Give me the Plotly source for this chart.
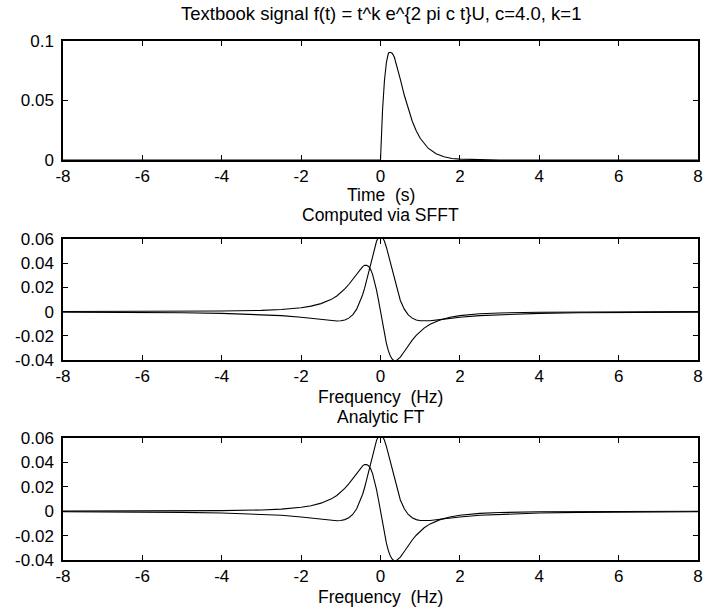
import plotly.graph_objects as go

# ---- data ----
time_s = [-8, -2, 0, 0.05, 0.1, 0.15, 0.2, 0.25, 0.3, 0.35, 0.4, 0.5, 0.6, 0.7, 0.8, 0.9,
          1.0, 1.2, 1.4, 1.6, 1.8, 2.0, 2.5, 3, 4, 6, 8]
signal = [0, 0, 0, 0.0409, 0.0670, 0.0823, 0.0899, 0.0905, 0.0895, 0.0863, 0.0806, 0.0677,
          0.0544, 0.0426, 0.0326, 0.0246, 0.0183, 0.0099, 0.0052, 0.0027, 0.0013, 0.0007,
          0.0001, 0.00002, 0, 0, 0]

freq_hz = [-8, -7, -6, -5, -4, -3, -2.5, -2, -1.75, -1.5, -1.25, -1.1, -1.0, -0.9, -0.8,
           -0.7, -0.6, -0.5, -0.45, -0.4, -0.35, -0.3, -0.25, -0.2, -0.15, -0.1, -0.05,
           0, 0.05, 0.1, 0.15, 0.2, 0.25, 0.3, 0.35, 0.4, 0.45, 0.5, 0.6, 0.7, 0.8, 0.9,
           1.0, 1.1, 1.25, 1.5, 1.75, 2, 2.5, 3, 4, 5, 6, 7, 8]

real_part = [-0.0004, -0.0005, -0.0007, -0.0010, -0.0015, -0.0025, -0.0033, -0.0047, -0.0056,
             -0.0066, -0.0076, -0.0078, -0.0076, -0.0069, -0.0054, -0.0027, 0.0020, 0.0092,
             0.0139, 0.0194, 0.0257, 0.0326, 0.0397, 0.0467, 0.0530, 0.0581, 0.0614,
             0.0625, 0.0614, 0.0581, 0.0530, 0.0467, 0.0397, 0.0326, 0.0257, 0.0194, 0.0139,
             0.0092, 0.0020, -0.0027, -0.0054, -0.0069, -0.0076, -0.0078, -0.0076, -0.0066,
             -0.0056, -0.0047, -0.0033, -0.0025, -0.0015, -0.0010, -0.0007, -0.0005, -0.0004]

imag_part = [0.00006, 0.00009, 0.00014, 0.00024, 0.0005, 0.0010, 0.0017, 0.0032, 0.0045,
             0.0066, 0.0099, 0.0129, 0.0155, 0.0187, 0.0224, 0.0267, 0.0313, 0.0356,
             0.0372, 0.0382, 0.0382, 0.0373, 0.0350, 0.0308, 0.0250, 0.0177, 0.0092,
             0, -0.0097, -0.0187, -0.0264, -0.0325, -0.0369, -0.0395, -0.0405, -0.0404,
             -0.0393, -0.0376, -0.0330, -0.0282, -0.0236, -0.0197, -0.0163, -0.0136,
             -0.0104, -0.0069, -0.0047, -0.0033, -0.0018, -0.0011, -0.0005, -0.00025,
             -0.00015, -0.00009, -0.00006]

x_ticks = [-8, -6, -4, -2, 0, 2, 4, 6, 8]
top_y_ticks = [0, 0.05, 0.1]
top_y_labels = ["0", "0.05", "0.1"]
ft_y_ticks = [-0.04, -0.02, 0, 0.02, 0.04, 0.06]
ft_y_labels = ["-0.04", "-0.02", "0", "0.02", "0.04", "0.06"]

title_text = "Textbook signal f(t) = t^k e^{2 pi c t}U, c=4.0, k=1"

FONT = "Liberation Sans, Arial, Helvetica, sans-serif"
TICK_SIZE = 17
LABEL_SIZE = 17.5

fig = go.Figure()
line = dict(color="black", width=1.1)
fig.add_trace(go.Scatter(x=time_s, y=signal, mode="lines", line=line, xaxis="x", yaxis="y"))
fig.add_trace(go.Scatter(x=freq_hz, y=real_part, mode="lines", line=line, xaxis="x2", yaxis="y2"))
fig.add_trace(go.Scatter(x=freq_hz, y=imag_part, mode="lines", line=line, xaxis="x2", yaxis="y2"))
fig.add_trace(go.Scatter(x=freq_hz, y=real_part, mode="lines", line=line, xaxis="x3", yaxis="y3"))
fig.add_trace(go.Scatter(x=freq_hz, y=imag_part, mode="lines", line=line, xaxis="x3", yaxis="y3"))

def xax(anchor):
    return dict(anchor=anchor, domain=[0, 1], range=[-8, 8], tickvals=x_ticks,
                ticktext=[str(v) for v in x_ticks], ticks="inside", ticklen=5,
                tickcolor="black", tickwidth=1, showline=True, linecolor="black",
                linewidth=1.5, mirror="ticks", showgrid=False, zeroline=False,
                tickfont=dict(family=FONT, size=TICK_SIZE, color="black"))

def yax(anchor, dom, rng, tv, tt):
    return dict(anchor=anchor, domain=dom, range=rng, tickvals=tv, ticktext=tt,
                ticks="inside", ticklen=5, tickcolor="black", tickwidth=1,
                showline=True, linecolor="black", linewidth=1.5, mirror="ticks",
                showgrid=False, zeroline=False, ticklabelstandoff=4,
                tickfont=dict(family=FONT, size=TICK_SIZE, color="black"))

H_TOP, H_BOT = 41, 51
PH = 611 - H_TOP - H_BOT
def py(px):
    return (611 - H_BOT - px) / PH

fig.update_layout(
    width=709, height=611,
    margin=dict(l=63, r=6, t=H_TOP, b=H_BOT, pad=0),
    paper_bgcolor="white", plot_bgcolor="white",
    showlegend=False,
    xaxis=xax("y"), xaxis2=xax("y2"), xaxis3=xax("y3"),
    yaxis=yax("x", [py(160), 1.0], [0, 0.1], top_y_ticks, top_y_labels),
    yaxis2=yax("x2", [py(360), py(239)], [-0.04, 0.06], ft_y_ticks, ft_y_labels),
    yaxis3=yax("x3", [0, py(438)], [-0.04, 0.06], ft_y_ticks, ft_y_labels),
)

def label(text, ypx, size=LABEL_SIZE):
    fig.add_annotation(text=text, xref="paper", yref="paper", x=0.5, y=py(ypx),
                       xanchor="center", yanchor="middle", showarrow=False,
                       font=dict(family=FONT, size=size, color="black"))

label(title_text, 14, 18.5)
label("Time \u00a0(s)", 195)
label("Computed via SFFT", 215)
label("Frequency \u00a0(Hz)", 397)
label("Analytic FT", 417)
label("Frequency \u00a0(Hz)", 597)

fig.write_html("out.html")
